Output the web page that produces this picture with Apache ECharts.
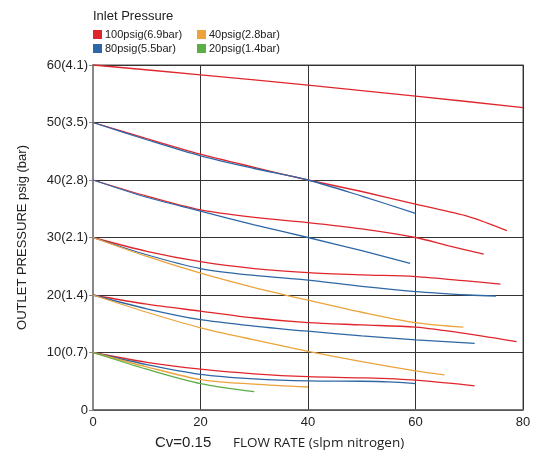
<!DOCTYPE html>
<html><head><meta charset="utf-8">
<script src="https://cdn.jsdelivr.net/npm/echarts@6/dist/echarts.min.js"></script>
<style>html,body{margin:0;padding:0;background:#fff}#c{width:541px;height:453px}</style>
</head><body><div id="c"></div>
<script>
// Tick labels
const xTicks = [0, 20, 40, 60, 80];
const yTickLabels = {0:'0',10:'10(0.7)',20:'20(1.4)',30:'30(2.1)',40:'40(2.8)',50:'50(3.5)',60:'60(4.1)'};
const legendNames = ['100psig(6.9bar)', '80psig(5.5bar)', '40psig(2.8bar)', '20psig(1.4bar)'];

// Curves: [flow, outlet pressure]
const red60 = [[0,60],[20,58.3],[40,56.5],[60,54.6],[80,52.6]];
const red50 = [[0,50],[10,47.2],[20,44.5],[30,42.2],[40,40],[50,38],[60,35.8],[70,33.6],[77,31.2]];
const blue50 = [[0,50],[10,47],[20,44.2],[30,42],[40,40],[50,37.2],[60,34.2]];
const red40 = [[0,40],[10,37.2],[20,34.8],[30,33.5],[40,32.6],[50,31.5],[60,30],[66,28.6],[72.7,27.1]];
const blue40 = [[0,40],[10,37],[20,34.6],[30,32.2],[40,30],[50,27.7],[59,25.5]];
const red30 = [[0,30],[10,27.6],[20,25.8],[30,24.6],[40,23.9],[50,23.5],[60,23.2],[70,22.4],[75.8,21.9]];
const blue30 = [[0,30],[10,27],[20,24.6],[30,23.4],[40,22.6],[50,21.5],[60,20.6],[70,20],[75,19.8]];
const orange30 = [[0,30],[10,26.7],[20,23.8],[30,21.3],[40,19.1],[50,17],[60,15.2],[68.9,14.4]];
const red20 = [[0,20],[10,18.4],[20,17.2],[30,16],[40,15.2],[50,14.8],[60,14.4],[70,13.2],[78.8,11.9]];
const blue20 = [[0,20],[10,17.6],[20,15.7],[30,14.6],[40,13.7],[50,12.9],[60,12.2],[71,11.6]];
const orange20 = [[0,20],[10,17],[20,14.3],[30,12.2],[40,10.2],[50,8.4],[60,6.8],[65.4,6.1]];
const red10 = [[0,10],[10,8.3],[20,7.1],[30,6.3],[40,5.8],[50,5.6],[60,5.2],[71,4.2]];
const blue10 = [[0,10],[10,7.9],[20,6.2],[30,5.4],[40,5.05],[50,5.0],[55,4.9],[60,4.6]];
const orange10 = [[0,10],[10,7.5],[20,5.3],[30,4.5],[40,4.0]];
const green10 = [[0,10],[10,7.1],[20,4.6],[30,3.2]];

const colors = {'100psig(6.9bar)':'#e0262d','80psig(5.5bar)':'#2e67a5','40psig(2.8bar)':'#eba33a','20psig(1.4bar)':'#5aae45'};
const curves = [
  ['100psig(6.9bar)', red60], ['100psig(6.9bar)', red50], ['80psig(5.5bar)', blue50],
  ['100psig(6.9bar)', red40], ['80psig(5.5bar)', blue40],
  ['100psig(6.9bar)', red30], ['80psig(5.5bar)', blue30], ['40psig(2.8bar)', orange30],
  ['100psig(6.9bar)', red20], ['80psig(5.5bar)', blue20], ['40psig(2.8bar)', orange20],
  ['100psig(6.9bar)', red10], ['80psig(5.5bar)', blue10], ['40psig(2.8bar)', orange10], ['20psig(1.4bar)', green10]
];

const chart = echarts.init(document.getElementById('c'));
const font = 'Liberation Sans, Arial, sans-serif';
const legendBase = {
  orient: 'vertical', itemWidth: 9, itemHeight: 9, itemGap: 3, icon: 'rect',
  textStyle: {fontFamily: font, fontSize: 11, color: '#222', padding: [0,0,0,-2]}
};
chart.setOption({
  animation: false,
  grid: {left: 93, right: 18, top: 65, bottom: 43, show: true, borderColor: '#888', borderWidth: 1.5},
  title: {text: 'Inlet Pressure', left: 88, top: 5, textStyle: {fontFamily: font, fontSize: 13, fontWeight: 'normal', color: '#222'}},
  legend: [
    Object.assign({}, legendBase, {data: [legendNames[0], legendNames[1]], left: 88, top: 24}),
    Object.assign({}, legendBase, {data: [legendNames[2], legendNames[3]], left: 192, top: 24})
  ],
  xAxis: {
    type: 'value', min: 0, max: 80, interval: 20,
    axisLine: {show: true, lineStyle: {color: '#666', width: 1.5}},
    axisTick: {show: false},
    axisLabel: {fontFamily: font, fontSize: 13, color: '#222', margin: 6, formatter: v => xTicks.includes(v) ? String(v) : ''},
    splitLine: {show: true, lineStyle: {color: '#333', width: 1}}
  },
  yAxis: {
    type: 'value', min: 0, max: 60, interval: 10,
    name: 'OUTLET PRESSURE psig (bar)', nameLocation: 'middle', nameGap: 64, nameRotate: 90,
    nameTextStyle: {fontFamily: font, fontSize: 13, color: '#222'},
    axisLine: {show: true, lineStyle: {color: '#888', width: 2}},
    axisTick: {show: true, length: 4, lineStyle: {color: '#888'}},
    axisLabel: {fontFamily: font, fontSize: 13, color: '#222', margin: 5, formatter: v => yTickLabels[v]},
    splitLine: {show: true, lineStyle: {color: '#333', width: 1}}
  },
  graphic: [
    {type: 'text', left: 155, top: 435, style: {text: 'Cv=0.15', font: '15px ' + font, fill: '#222'}},
    {type: 'text', left: 233, top: 436, style: {text: 'FLOW RATE (slpm nitrogen)', font: '13.5px "Open Sans", sans-serif', fill: '#222'}}
  ],
  series: curves.map(([name, data]) => ({
    name, type: 'line', data, smooth: 0.3, showSymbol: false, symbol: 'none',
    color: colors[name], lineStyle: {width: 1.3, color: colors[name]}
  }))
});
</script></body></html>
